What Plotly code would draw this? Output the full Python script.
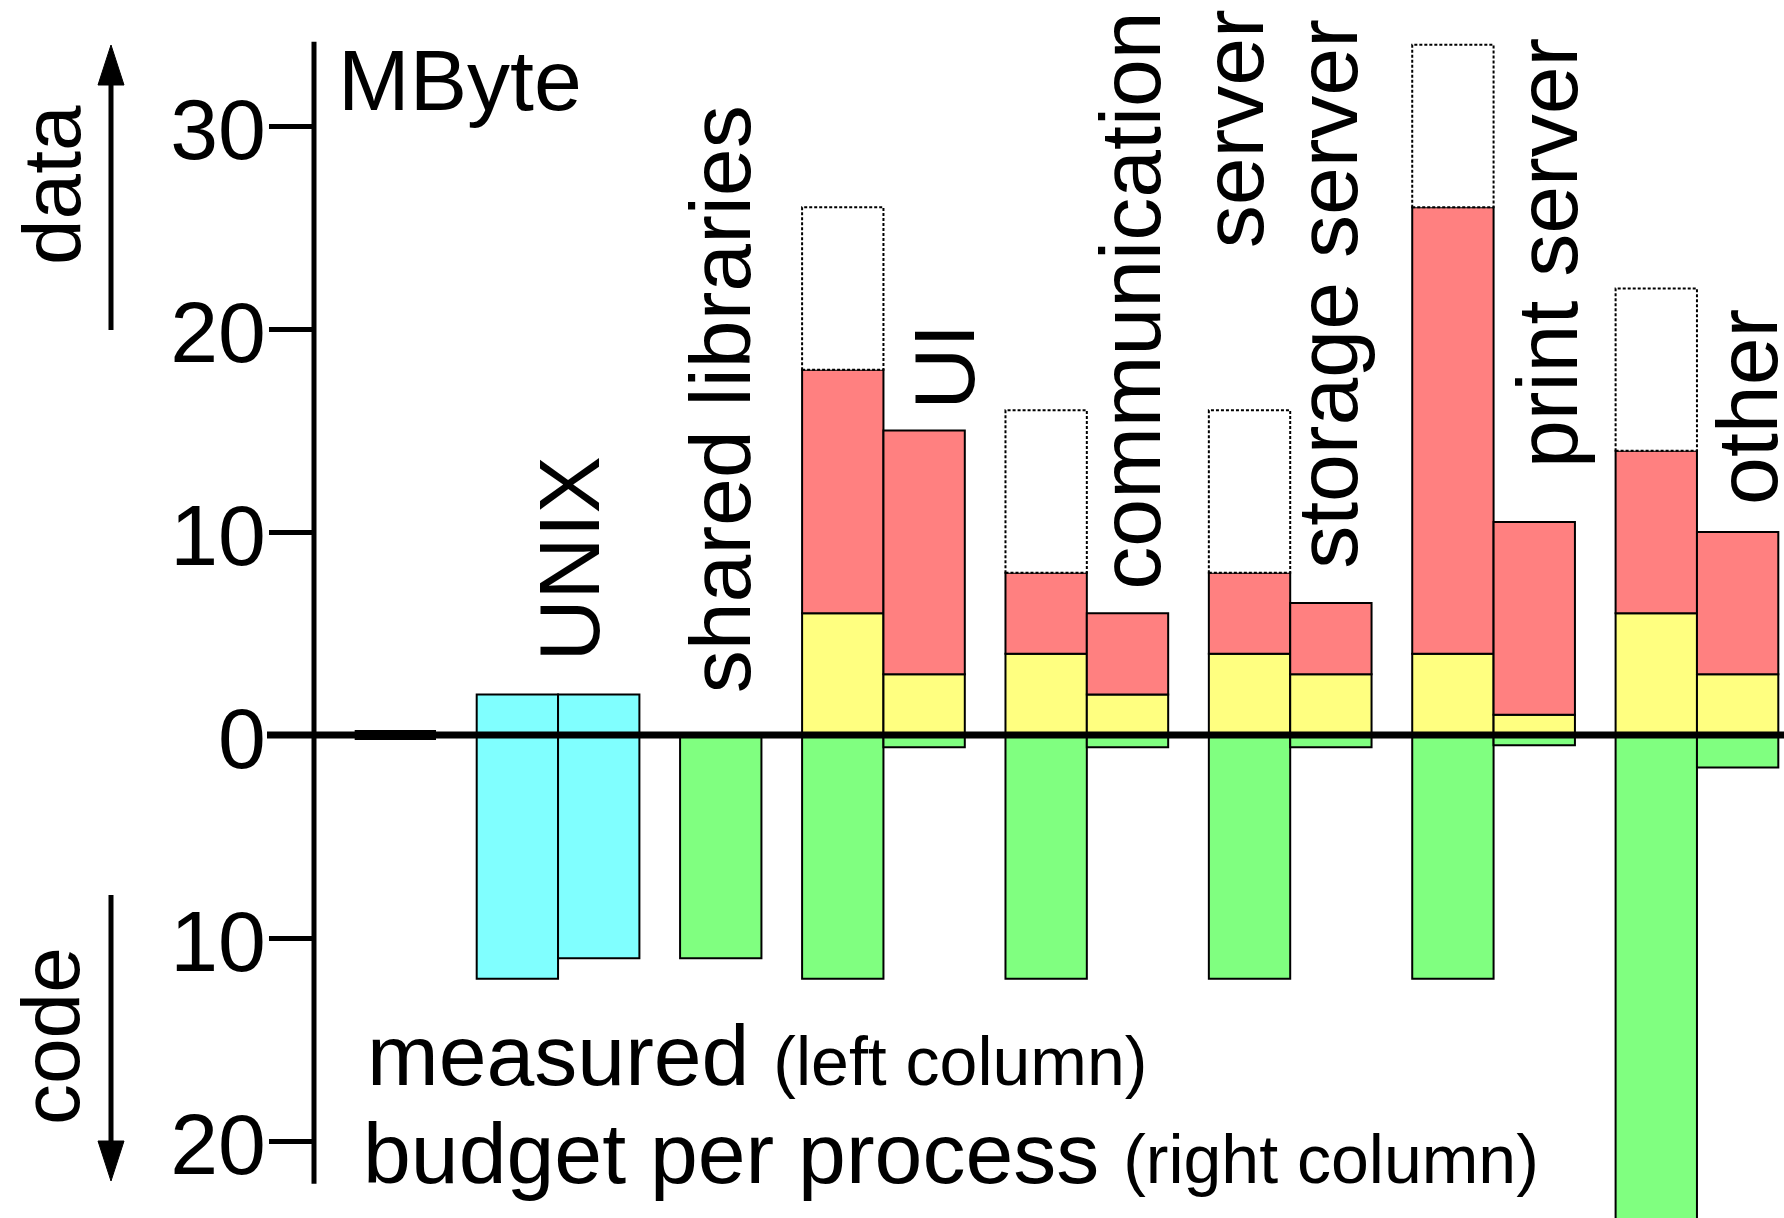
import plotly.graph_objects as go

# ---------------- data (MByte) ----------------
groups = ["", "UNIX", "shared libraries", "UI", "communication", "server",
          "storage server", "print server", "other"]
group_columns = [1, 2, 1, 2, 2, 2, 2, 2]

first_value = 0                      # unlabeled first column (zero)
unix_code = [12, 11]                 # measured, budget
unix_data = [2, 2]
shared_code = 11

# processes: UI, communication server, storage server, print server, other
meas_code = [12, 12, 12, 12, 25]
meas_data1 = [6, 4, 4, 4, 6]         # yellow
meas_data2 = [12, 4, 4, 22, 8]       # red
meas_extra = [8, 8, 8, 8, 8]         # dotted
bud_code = [0.6, 0.6, 0.6, 0.5, 1.6]
bud_data1 = [3, 2, 3, 1, 3]
bud_data2 = [12, 4, 3.5, 9.5, 7]

tick_vals = [-20, -10, 0, 10, 20, 30]
tick_text = ["20", "10", "0", "10", "20", "30"]

# ---------------- layout constants ----------------
W, H = 1784, 1218
ML = 314
PW = W - ML
FONT = "Liberation Sans, Arial, sans-serif"
FS = 86
X_RANGE = [-1.0, 17.07]
Y_RANGE = [-23.79, 36.21]
BAR_W = 1.0
GAP = 0.5
GREEN, YELLOW, RED, CYAN = "#80FF80", "#FFFF80", "#FF8080", "#80FFFF"
OUT = dict(color="black", width=2)

# label anchor positions (x in column units, y in MByte)
label_pos = [None, (2.14, 3.52), (4.00, 1.95), (6.75, 15.95), (9.02, 7.07), (10.30, 23.87),
             (11.45, 8.08), (14.15, 13.08), (16.62, 11.26)]

# column positions
cols = []
start = -0.5
for n in group_columns:
    cols.append([start + 0.5 + i for i in range(n)])
    start += n + GAP

def px2x(px):
    return (px - ML) / PW

def px2y(py):
    return 1 - py / H

def val2y(v):
    return (v - Y_RANGE[0]) / (Y_RANGE[1] - Y_RANGE[0])

proc_cols = cols[3:]
meas_x = [c[0] for c in proc_cols]
bud_x = [c[1] for c in proc_cols]

fig = go.Figure()

# first (zero) column
fig.add_trace(go.Scatter(x=[cols[0][0] - BAR_W / 2, cols[0][0] + BAR_W / 2],
                         y=[first_value, first_value], mode="lines",
                         line=dict(color="black", width=10), showlegend=False,
                         hoverinfo="skip"))

# green code bars (downward)
g_x = [cols[2][0]] + meas_x + bud_x
g_code = [shared_code] + meas_code + bud_code
fig.add_trace(go.Bar(x=g_x, y=g_code, base=[-c for c in g_code], width=BAR_W,
                     marker=dict(color=GREEN, line=OUT), name="code"))

# UNIX cyan
fig.add_trace(go.Bar(x=cols[1], y=[c + d for c, d in zip(unix_code, unix_data)],
                     base=[-c for c in unix_code], width=BAR_W,
                     marker=dict(color=CYAN, line=OUT), name="UNIX"))

# yellow
fig.add_trace(go.Bar(x=meas_x + bud_x, y=meas_data1 + bud_data1, base=0, width=BAR_W,
                     marker=dict(color=YELLOW, line=OUT), name="data 1"))
# red
fig.add_trace(go.Bar(x=meas_x + bud_x, y=meas_data2 + bud_data2,
                     base=meas_data1 + bud_data1, width=BAR_W,
                     marker=dict(color=RED, line=OUT), name="data 2"))

shapes = []
# dotted boxes
for x, d1, d2, e in zip(meas_x, meas_data1, meas_data2, meas_extra):
    shapes.append(dict(type="rect", xref="x", yref="y",
                       x0=x - BAR_W / 2, x1=x + BAR_W / 2, y0=d1 + d2, y1=d1 + d2 + e,
                       fillcolor="white", line=dict(color="black", width=2, dash="3px,2px"),
                       layer="above"))
# zero line
shapes.append(dict(type="line", xref="paper", yref="paper", x0=px2x(267), x1=1,
                   y0=val2y(0), y1=val2y(0), line=dict(color="black", width=7)))
# y axis line
shapes.append(dict(type="line", xref="paper", yref="paper", x0=0, x1=0,
                   y0=val2y(-22.1), y1=val2y(34.15), line=dict(color="black", width=5)))
# arrows (data up, code down)
AX = 111
shapes.append(dict(type="line", xref="paper", yref="paper", x0=px2x(AX), x1=px2x(AX),
                   y0=px2y(330), y1=px2y(80), line=dict(color="black", width=5)))
shapes.append(dict(type="path", xref="paper", yref="paper",
                   path=f"M{px2x(AX)},{px2y(45)} L{px2x(AX-13)},{px2y(85)} L{px2x(AX+13)},{px2y(85)} Z",
                   fillcolor="black", line=dict(color="black", width=1)))
shapes.append(dict(type="line", xref="paper", yref="paper", x0=px2x(AX), x1=px2x(AX),
                   y0=px2y(895), y1=px2y(1145), line=dict(color="black", width=5)))
shapes.append(dict(type="path", xref="paper", yref="paper",
                   path=f"M{px2x(AX)},{px2y(1181)} L{px2x(AX-13)},{px2y(1141)} L{px2x(AX+13)},{px2y(1141)} Z",
                   fillcolor="black", line=dict(color="black", width=1)))

annotations = []
for name, pos in zip(groups, label_pos):
    if pos is None:
        continue
    annotations.append(dict(text=name, x=pos[0], y=pos[1], xref="x", yref="y",
                            xanchor="center", yanchor="bottom", textangle=-90,
                            showarrow=False,
                            font=dict(family=FONT, size=FS, color="black")))
annotations.append(dict(text="MByte", x=px2x(336), y=px2y(30), xref="paper", yref="paper",
                        xanchor="left", yanchor="top", showarrow=False,
                        font=dict(family=FONT, size=FS, color="black")))
annotations.append(dict(text="data", x=px2x(52), y=px2y(185), xref="paper", yref="paper",
                        xanchor="center", yanchor="middle", textangle=-90, showarrow=False,
                        font=dict(family=FONT, size=82, color="black")))
annotations.append(dict(text="code", x=px2x(50), y=px2y(1036), xref="paper", yref="paper",
                        xanchor="center", yanchor="middle", textangle=-90, showarrow=False,
                        font=dict(family=FONT, size=82, color="black")))
annotations.append(dict(text='measured <span style="font-size:68px">(left column)</span>',
                        x=px2x(365), y=px2y(1105), xref="paper", yref="paper",
                        xanchor="left", yanchor="bottom", showarrow=False,
                        font=dict(family=FONT, size=FS, color="black")))
annotations.append(dict(text='budget per process <span style="font-size:68px">(right column)</span>',
                        x=px2x(361), y=px2y(1203), xref="paper", yref="paper",
                        xanchor="left", yanchor="bottom", showarrow=False,
                        font=dict(family=FONT, size=FS, color="black")))

fig.update_layout(
    width=W, height=H, margin=dict(l=ML, r=0, t=0, b=0, pad=0),
    paper_bgcolor="white", plot_bgcolor="white", barmode="overlay",
    showlegend=False, shapes=shapes, annotations=annotations,
    xaxis=dict(range=X_RANGE, visible=False, fixedrange=True),
    yaxis=dict(range=Y_RANGE, tickmode="array", tickvals=tick_vals, ticktext=tick_text,
               ticks="outside", ticklen=44, tickwidth=5, tickcolor="black",
               ticklabelstandoff=-14, ticklabelshift=3,
               showline=False, showgrid=False, zeroline=False, fixedrange=True,
               tickfont=dict(family=FONT, size=FS, color="black")),
)

fig.write_html("out.html", config={"displayModeBar": False},
               post_script="document.body.style.margin='0';document.body.style.overflow='hidden';")
